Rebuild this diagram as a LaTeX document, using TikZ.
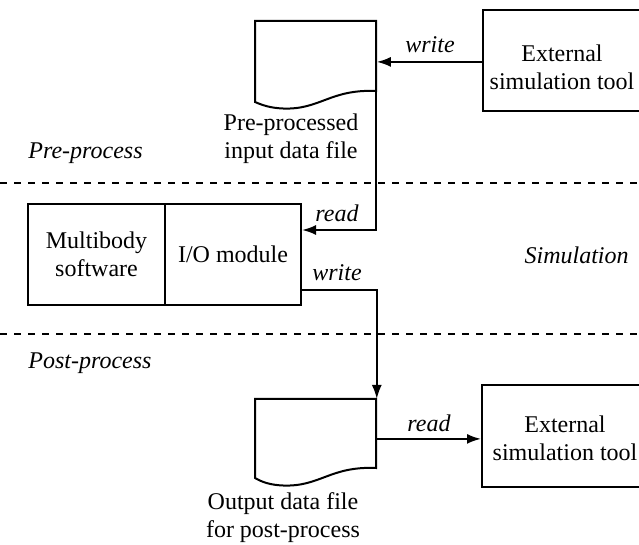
\documentclass[tikz,border=0pt]{standalone}
\usepackage{fontspec}
\setmainfont{Liberation Serif}
\usetikzlibrary{arrows.meta}
\begin{document}
\begin{tikzpicture}[x=0.5pt,y=-0.5pt,
  every node/.style={font=\fontsize{12}{14}\selectfont, inner sep=0pt, align=center},
  box/.style={draw, line width=1pt, anchor=north west},
  lbl/.style={font=\fontsize{12}{14}\selectfont\itshape},
  arr/.style={line width=1pt, -{Latex[length=7pt,width=5pt]}},
  sep/.style={dash pattern=on 3.5pt off 3.5pt, line width=0.8pt},
  docline/.style={line width=1pt, line join=miter}]
\clip (0,0) rectangle (639,545);
\useasboundingbox (0,0) rectangle (639,545);

% separators
\draw[sep] (0,183) -- (639,183);
\draw[sep] (0,334) -- (639,334);

% section labels
\node[lbl, anchor=west] (lpre) at (28,153) {Pre-process};
\node[lbl, anchor=east] (lsim) at (629,255) {Simulation};
\node[lbl, anchor=west] (lpost) at (28,363) {Post-process};

% documents
\node[anchor=north west, minimum width=60.5pt, minimum height=40.5pt] (doc1) at (255,21) {};
\draw[docline] (255,102) -- (255,21) -- (376,21) -- (376,91)
  .. controls (330,89) and (320,110) .. (283,108.5)
  .. controls (270,108) and (262,105) .. (255,102) -- cycle;
\coordinate (d1br) at (376,91);
\node (t1) at (291,139) {Pre-processed\\input data file};

\node[anchor=north west, minimum width=60.5pt, minimum height=39.5pt] (doc2) at (255,399) {};
\begin{scope}[shift={(0,378)}]
\draw[docline] (255,100) -- (255,21) -- (376,21) -- (376,90)
  .. controls (330,88) and (320,109) .. (283,107.5)
  .. controls (270,107) and (262,104) .. (255,100) -- cycle;
\end{scope}
\node (t2) at (283,518) {Output data file\\for post-process};

% external tools
\node[box, minimum width=84pt, minimum height=50.5pt] (ext1) at (482,9) {};
\node (e1t) at (562,67) {External\\simulation tool};
\node[box, minimum width=84pt, minimum height=51pt] (ext2) at (481,384) {};
\node (e2t) at (565,438) {External\\simulation tool};

% multibody software
\node[box, minimum width=68.5pt, minimum height=50.5pt] (mb) at (27,203) {Multibody\\software};
\node[box, minimum width=68pt, minimum height=50.5pt] (io) at (164,203) {I/O module};

% connectors
\draw[arr] (ext1.west |- doc1.east) -- (doc1.east);
\node[lbl] (w1) at (430,45) {write};
\draw[arr] (d1br) |- ([yshift=12.25pt]io.east);
\node[lbl] (r1) at (337,213) {read};
\draw[arr] ([yshift=-17.75pt]io.east) -| (doc2.north east);
\node[lbl] (w2) at (337,273) {write};
\draw[arr] (doc2.east) -- (doc2.east -| ext2.west);
\node[lbl] (r2) at (429,423) {read};
\end{tikzpicture}
\end{document}
